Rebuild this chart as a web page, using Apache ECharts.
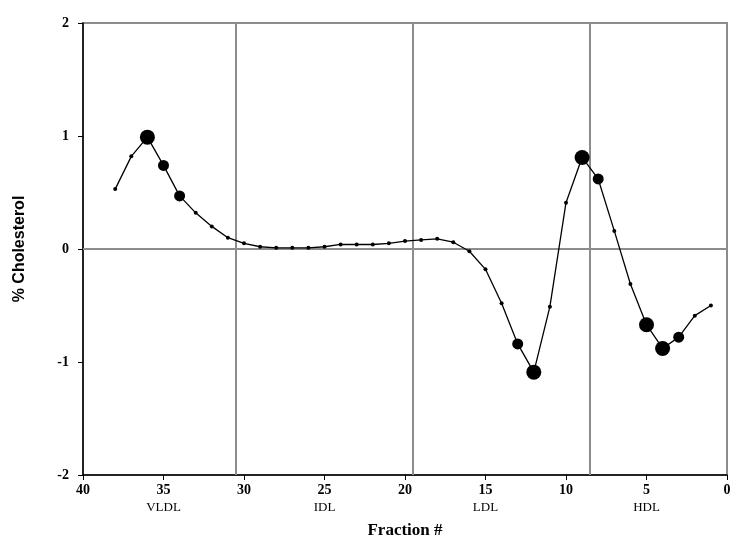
<!DOCTYPE html>
<html>
<head>
<meta charset="utf-8">
<script src="https://cdn.jsdelivr.net/npm/echarts@6/dist/echarts.min.js"></script>
<style>
  html, body { margin: 0; padding: 0; background: #fff; }
  #main { width: 750px; height: 559px; }
</style>
</head>
<body>
<div id="main"></div>
<script>
// fraction numbers and % cholesterol
var fractions = [38, 37, 36, 35, 34, 33, 32, 31, 30, 29, 28, 27, 26, 25, 24, 23, 22, 21, 20,
  19, 18, 17, 16, 15, 14, 13, 12, 11, 10, 9, 8, 7, 6, 5, 4, 3, 2, 1];
var cholesterol = [0.53, 0.82, 0.99, 0.74, 0.47, 0.32, 0.2, 0.1, 0.05, 0.02, 0.01, 0.01, 0.01, 0.02,
  0.04, 0.04, 0.04, 0.05, 0.07, 0.08, 0.09, 0.06, -0.02, -0.18, -0.48, -0.84, -1.09, -0.51,
  0.41, 0.81, 0.62, 0.16, -0.31, -0.67, -0.88, -0.78, -0.59, -0.5];
// 0 = plain point, 1 = medium dot, 2 = large dot
var significance = [0, 0, 2, 1, 1, 0, 0, 0, 0, 0, 0, 0, 0, 0, 0, 0, 0, 0, 0,
  0, 0, 0, 0, 0, 0, 1, 2, 0, 0, 2, 1, 0, 0, 2, 2, 1, 0, 0];
var boundaries = [30.5, 19.5, 8.5];
var regionLabels = { 35: 'VLDL', 25: 'IDL', 15: 'LDL', 5: 'HDL' };

var chart = echarts.init(document.getElementById('main'));

var points = fractions.map(function (f, i) {
  return [f, cholesterol[i], significance[i]];
});
var dotSize = [4, 11, 15];

var serif = 'Liberation Serif';

var option = {
  animation: false,
  backgroundColor: '#fff',
  grid: {
    left: 83, right: 23, top: 23, bottom: 84,
    show: true,
    borderColor: '#8c8c8c',
    borderWidth: 2
  },
  xAxis: [
    {
      type: 'value', inverse: true, min: 0, max: 40, interval: 5,
      axisLine: { onZero: false, lineStyle: { color: '#000', width: 1.5 } },
      axisTick: { length: 5, lineStyle: { color: '#000' } },
      axisLabel: { color: '#000', fontFamily: serif, fontWeight: 'bold', fontSize: 14, margin: 8 },
      splitLine: { show: false }
    },
    {
      type: 'value', inverse: true, min: 0, max: 40, interval: 5,
      position: 'bottom', offset: 20,
      axisLine: { show: false, onZero: false }, axisTick: { show: false },
      axisLabel: {
        color: '#000', fontFamily: serif, fontSize: 13, margin: 6,
        formatter: function (v) { return regionLabels[v] || ''; }
      },
      splitLine: { show: false },
      name: 'Fraction #', nameLocation: 'middle', nameGap: 27,
      nameTextStyle: { color: '#000', fontFamily: serif, fontWeight: 'bold', fontSize: 17 }
    }
  ],
  yAxis: {
    type: 'value', min: -2, max: 2, interval: 1,
    axisLine: { show: true, onZero: false, lineStyle: { color: '#000', width: 1.5 } },
    axisTick: { show: true, length: 5, lineStyle: { color: '#000' } },
    axisLabel: { color: '#000', fontFamily: serif, fontWeight: 'bold', fontSize: 14, margin: 14 },
    splitLine: { show: false },
    name: '% Cholesterol', nameLocation: 'middle', nameGap: 55,
    nameTextStyle: { color: '#000', fontFamily: 'Liberation Sans', fontWeight: 'bold', fontSize: 16 }
  },
  series: [
    {
      type: 'line',
      data: points,
      symbol: 'circle',
      symbolSize: function (d) { return dotSize[d[2]]; },
      itemStyle: { color: '#000' },
      lineStyle: { color: '#000', width: 1.3 },
      z: 5,
      markLine: {
        silent: true,
        symbol: 'none',
        label: { show: false },
        lineStyle: { color: '#8c8c8c', width: 2, type: 'solid' },
        data: boundaries.map(function (b) { return { xAxis: b }; }).concat([{ yAxis: 0 }])
      }
    }
  ]
};

chart.setOption(option);
</script>
</body>
</html>
